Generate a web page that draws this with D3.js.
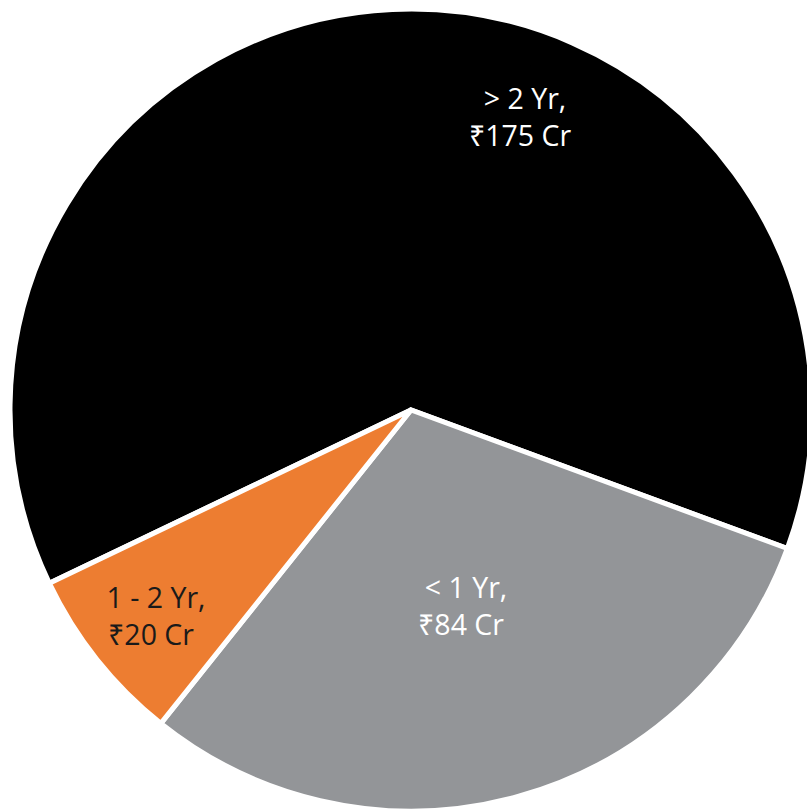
<!DOCTYPE html>
<html>
<head>
<meta charset="utf-8">
<script src="https://cdn.jsdelivr.net/npm/d3@7"></script>
<style>
  html, body { margin: 0; padding: 0; background: #ffffff; overflow: hidden; }
  svg { display: block; }
</style>
</head>
<body>
<svg id="chart" width="807" height="810"></svg>
<script>
// ---- data ----
const categories = ["> 2 Yr,", "< 1 Yr,", "1 - 2 Yr,"];
const values = [175, 84, 20];
const valueLabels = ["₹175 Cr", "₹84 Cr", "₹20 Cr"];
const colors = ["#000000", "#939598", "#ED7D31"];
const textColors = ["#ffffff", "#ffffff", "#1a1a1a"];

// ---- layout ----
const W = 807, H = 810;
const cx = 411, cy = 410;
const outerR = 401;
const startDeg = -115.6;
// label anchor points (center x, first baseline y) per slice
const labelPos = [[525, 109], [466, 598], [156, 608]];
const lineGap = 36.5;

const svg = d3.select("#chart");
const g = svg.append("g").attr("transform", `translate(${cx},${cy})`);

const data = categories.map((c, i) => ({ cat: c, value: values[i], label: valueLabels[i], color: colors[i], tc: textColors[i], i }));

const pie = d3.pie()
  .sort(null)
  .value(d => d.value)
  .startAngle(startDeg * Math.PI / 180)
  .endAngle((startDeg + 360) * Math.PI / 180);

const arc = d3.arc().innerRadius(0).outerRadius(outerR);

g.selectAll("path.slice")
  .data(pie(data))
  .join("path")
  .attr("class", "slice")
  .attr("d", arc)
  .attr("fill", d => d.data.color)
  .attr("stroke", "#ffffff")
  .attr("stroke-width", 5)
  .attr("stroke-linejoin", "miter");

const labels = svg.selectAll("text.lbl")
  .data(data)
  .join("text")
  .attr("class", "lbl")
  .attr("text-anchor", "middle")
  .attr("font-family", "'Open Sans', 'Noto Sans', sans-serif")
  .attr("font-size", 28.5)
  .attr("fill", d => d.tc);

labels.append("tspan")
  .attr("x", d => labelPos[d.i][0])
  .attr("y", d => labelPos[d.i][1])
  .text(d => d.cat);
labels.append("tspan")
  .attr("x", d => labelPos[d.i][0] - 5)
  .attr("y", d => labelPos[d.i][1] + lineGap)
  .text(d => d.label);
</script>
</body>
</html>
